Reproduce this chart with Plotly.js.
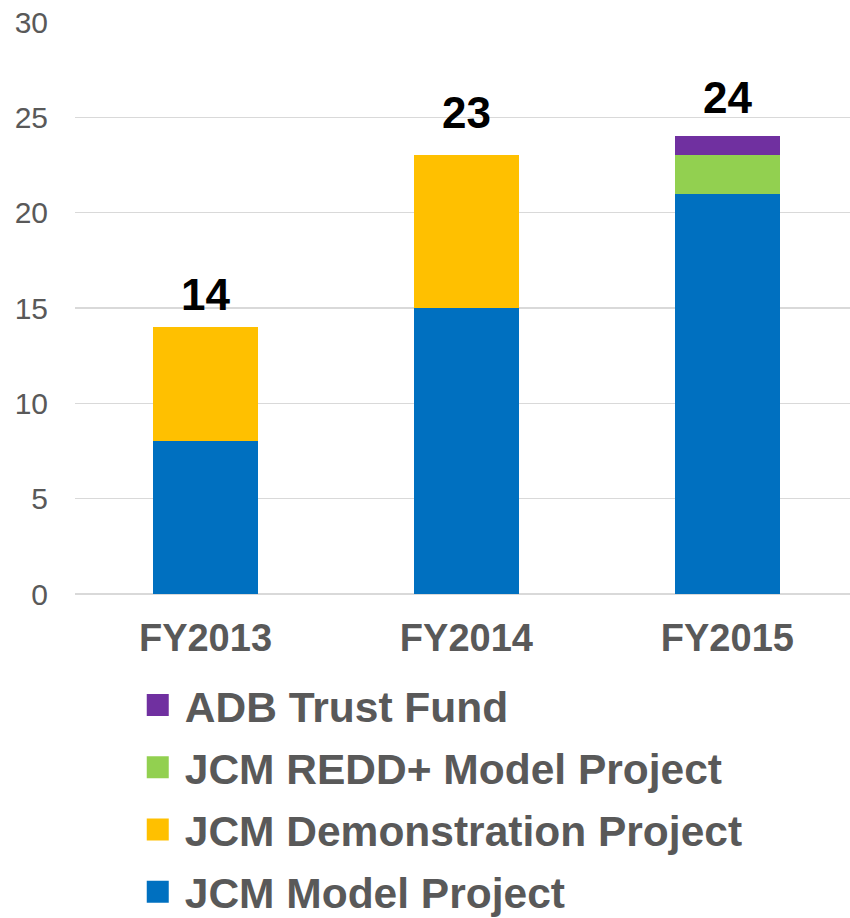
<!DOCTYPE html>
<html>
<head>
<meta charset="utf-8">
<script src="https://cdn.plot.ly/plotly-3.0.1.min.js"></script>
<style>html,body{margin:0;padding:0;background:#fff;}#chart{width:850px;height:918px;}</style>
</head>
<body>
<div id="chart"></div>
<script>
const categories = ["FY2013", "FY2014", "FY2015"];
const seriesNames = ["JCM Model Project", "JCM Demonstration Project", "JCM REDD+ Model Project", "ADB Trust Fund"];
const modelProject = [8, 15, 21];
const demonstrationProject = [6, 8, 0];
const reddProject = [0, 0, 2];
const adbTrustFund = [0, 0, 1];
const totals = [14, 23, 24];
const yTicks = [0, 5, 10, 15, 20, 25, 30];

// styling
const colors = ["#0070C0", "#FFC000", "#92D050", "#7030A0"];
const labelShiftPx = [6, 16, 12];
const seriesValues = [modelProject, demonstrationProject, reddProject, adbTrustFund];
const FONT = "Liberation Sans, Arial, sans-serif";

const traces = seriesValues.map((vals, i) => ({
  type: "bar",
  name: seriesNames[i],
  x: categories,
  y: vals,
  width: 0.4,
  marker: {color: colors[i], line: {width: 0}},
  legendgroup: "g" + i,
  legendrank: 10 - i,
  hoverinfo: "name+y"
}));

const annotations = categories.map((c, i) => ({
  x: c, y: totals[i], xref: "x", yref: "y",
  text: "<b>" + totals[i] + "</b>",
  showarrow: false, yanchor: "bottom", yshift: labelShiftPx[i],
  font: {family: FONT, size: 44, color: "#000000"}
}));

const layout = {
  width: 850, height: 918,
  margin: {l: 75, r: 0, t: 22, b: 324, pad: 0},
  paper_bgcolor: "#ffffff", plot_bgcolor: "#ffffff",
  barmode: "stack",
  showlegend: true,
  legend: {
    x: 0.09, y: 0.2691, xref: "paper", yref: "container", xanchor: "left", yanchor: "top",
    orientation: "v", traceorder: "grouped", tracegroupgap: 4,
    font: {family: FONT, size: 42.5, color: "#595959", weight: "bold"},
    bgcolor: "rgba(0,0,0,0)", borderwidth: 0
  },
  xaxis: {
    type: "category", range: [-0.5, 2.47], fixedrange: true,
    showgrid: false, zeroline: false, showline: false, ticks: "",
    tickfont: {family: FONT, size: 38, color: "#595959", weight: "bold"},
    ticklabelstandoff: 18
  },
  yaxis: {
    range: [0, 30], tickvals: yTicks, ticktext: yTicks.map(String), fixedrange: true,
    showgrid: true, gridcolor: "#d9d9d9", gridwidth: 1.5,
    zeroline: true, zerolinecolor: "#d9d9d9", zerolinewidth: 1.5,
    showline: false, ticks: "",
    tickfont: {family: FONT, size: 30, color: "#595959"},
    ticklabelstandoff: 26
  },
  annotations: annotations
};

Plotly.newPlot("chart", traces, layout, {displayModeBar: false, staticPlot: true}).then(() => {
  document.querySelectorAll(".legend .legendpoints path").forEach(p => {
    p.removeAttribute("transform");
    p.setAttribute("d", "M2,-11H24V11H2Z");
  });
});
</script>
</body>
</html>
